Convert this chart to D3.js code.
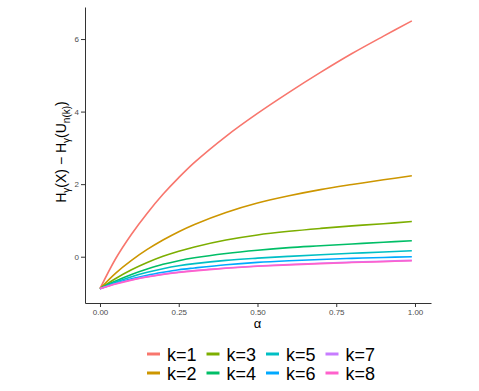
<!DOCTYPE html>
<html lang="en">
<head>
<meta charset="UTF-8">
<title>H difference vs alpha</title>
<style>
    body { margin: 0; background: #fff; }
    svg { display: block; font-family: "Liberation Sans", Arial, sans-serif; }
    .axis path, .axis line { stroke: #333; stroke-width: 1; }
    .axis text { fill: #4d4d4d; font-size: 8px; }
</style>
</head>
<body>
<div id="chart"></div>
<script src="https://d3js.org/d3.v7.min.js"></script>
<script>
    // values
    const alpha = [0, 0.05, 0.1, 0.15, 0.2, 0.25, 0.3, 0.4, 0.5, 0.6, 0.7, 0.8, 0.9, 0.99];
    const k1 = [-0.88, -0.05, 0.62, 1.20, 1.72, 2.18, 2.60, 3.32, 3.95, 4.53, 5.08, 5.60, 6.08, 6.50];
    const k2 = [-0.88, -0.45, -0.10, 0.20, 0.46, 0.69, 0.89, 1.22, 1.48, 1.68, 1.85, 1.99, 2.12, 2.23];
    const k3 = [-0.88, -0.60, -0.36, -0.16, 0.01, 0.15, 0.27, 0.46, 0.60, 0.70, 0.78, 0.85, 0.91, 0.97];
    const k4 = [-0.88, -0.67, -0.49, -0.34, -0.21, -0.11, -0.03, 0.09, 0.18, 0.25, 0.30, 0.35, 0.40, 0.44];
    const k5 = [-0.88, -0.70, -0.55, -0.43, -0.33, -0.25, -0.19, -0.10, -0.04, 0.01, 0.055, 0.095, 0.13, 0.165];
    const k6 = [-0.88, -0.73, -0.61, -0.51, -0.43, -0.36, -0.31, -0.22, -0.155, -0.11, -0.075, -0.045, -0.02, 0.0];
    const k7 = [-0.88, -0.745, -0.635, -0.55, -0.48, -0.425, -0.38, -0.31, -0.255, -0.215, -0.18, -0.15, -0.125, -0.10];
    const k8 = [-0.88, -0.75, -0.645, -0.56, -0.49, -0.435, -0.39, -0.32, -0.265, -0.225, -0.19, -0.16, -0.135, -0.11];

    const names = ["k=1", "k=2", "k=3", "k=4", "k=5", "k=6", "k=7", "k=8"];
    const colors = ["#F8766D", "#CD9600", "#7CAE00", "#00BE67", "#00BFC4", "#00A9FF", "#C77CFF", "#FF61CC"];
    const xTicks = [0, 0.25, 0.5, 0.75, 1];
    const yTicks = [0, 2, 4, 6];

    const series = [k1, k2, k3, k4, k5, k6, k7, k8].map((vals, i) => ({
        name: names[i],
        color: colors[i],
        points: vals.map((v, j) => ({ a: alpha[j], v: v }))
    }));

    const w = 479, h = 391;
    const panel = { left: 85, right: 431, top: 7, bottom: 303 };

    const svg = d3.select("#chart").append("svg")
        .attr("width", w)
        .attr("height", h);

    const x = d3.scaleLinear().domain([-0.0476, 1.0508]).range([panel.left, panel.right]);
    const y = d3.scaleLinear().domain([-1.276, 6.883]).range([panel.bottom, panel.top]);

    const line = d3.line()
        .x(d => x(d.a))
        .y(d => y(d.v))
        .curve(d3.curveCatmullRom.alpha(0.5));

    svg.append("g")
        .selectAll("path")
        .data(series)
        .enter()
        .append("path")
        .attr("d", d => line(d.points))
        .attr("fill", "none")
        .attr("stroke", d => d.color)
        .attr("stroke-width", 1.6);

    svg.append("g")
        .attr("class", "axis")
        .attr("transform", `translate(0,${panel.bottom})`)
        .call(d3.axisBottom(x).tickValues(xTicks).tickFormat(d3.format(".2f")).tickSize(4).tickSizeOuter(0).tickPadding(2));

    svg.append("g")
        .attr("class", "axis")
        .attr("transform", `translate(${panel.left},0)`)
        .call(d3.axisLeft(y).tickValues(yTicks).tickSize(4).tickSizeOuter(0).tickPadding(2));

    // x title
    svg.append("text")
        .attr("x", (x(0) + x(1)) / 2)
        .attr("y", 328)
        .attr("text-anchor", "middle")
        .attr("font-size", 13)
        .text("α");

    // y title: H_γ(X) − H_γ(U_n(k))
    const yt = svg.append("text")
        .attr("transform", "translate(66,152) rotate(-90)")
        .attr("text-anchor", "middle")
        .attr("font-size", 14);
    yt.append("tspan").text("H");
    yt.append("tspan").attr("font-size", 10).attr("dy", 4).text("γ");
    yt.append("tspan").attr("dy", -4).text("(X) − H");
    yt.append("tspan").attr("font-size", 10).attr("dy", 4).text("γ");
    yt.append("tspan").attr("dy", -4).text("(U");
    yt.append("tspan").attr("font-size", 10).attr("dy", 4).text("n(k)");
    yt.append("tspan").attr("dy", -4).text(")");

    // legend, two rows, filled column by column
    const leg = svg.append("g");
    const colX = [147, 206.5, 266, 325.5];
    const rowY = [354, 373];
    series.forEach((s, i) => {
        const cx = colX[Math.floor(i / 2)];
        const cy = rowY[i % 2];
        leg.append("line")
            .attr("x1", cx).attr("x2", cx + 13)
            .attr("y1", cy).attr("y2", cy)
            .attr("stroke", s.color)
            .attr("stroke-width", 3);
        leg.append("text")
            .attr("x", cx + 20)
            .attr("y", cy + 7)
            .attr("font-size", 18)
            .attr("fill", "#000")
            .text(s.name);
    });
</script>
</body>
</html>
